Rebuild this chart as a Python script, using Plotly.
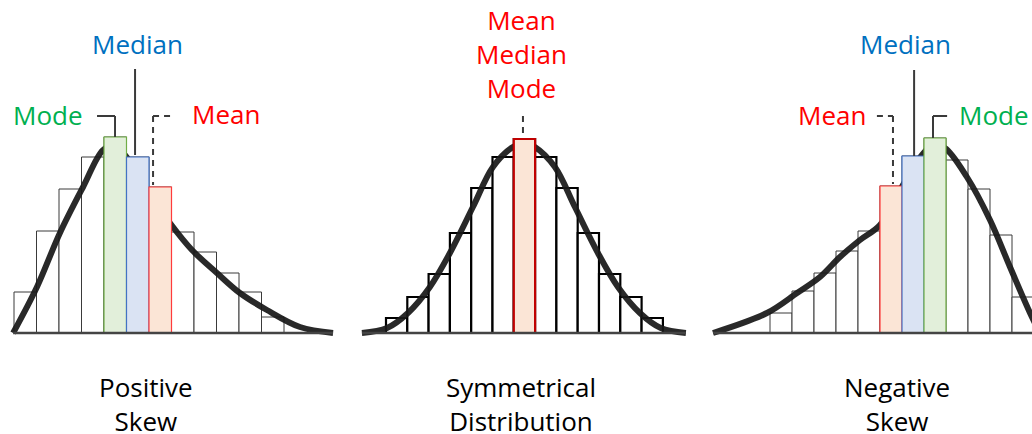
import plotly.graph_objects as go

# ---------------- data ----------------
# Positive skew panel: bar heights (frequency units) per bin
pos_heights = [41, 102, 144, 176, 196, 176, 146, 101, 81, 60, 41, 16]
pos_mode_bin, pos_median_bin, pos_mean_bin = 4, 5, 6
pos_curve_x = [-0.04, 1.02, 2.04, 3.07, 3.96, 4.44, 4.93, 5.91, 6.93, 7.91, 9.02, 10.04, 11.24, 12.71, 14.18]
pos_curve_y = [0, 46, 100, 146, 183, 187, 178, 143, 110, 83, 60, 40, 23, 6, 0]

# Symmetrical panel
sym_heights = [15, 36, 59, 100, 145, 176, 194, 176, 145, 100, 59, 36, 15]
sym_center_bin = 6
sym_curve_x = [-1.13, 0.05, 1.03, 2.06, 3.00, 4.08, 5.02, 5.96, 6.48, 6.99, 7.93, 8.87, 9.95, 10.89, 11.92, 12.90, 14.08]
sym_curve_y = [0, 5, 20, 46, 80, 126, 166, 186, 190, 186, 166, 126, 80, 46, 20, 5, 0]

# Negative skew panel
neg_heights = [20, 42, 60, 82, 102, 147, 177, 195, 173, 144, 98, 36]
neg_mean_bin, neg_median_bin, neg_mode_bin = 5, 6, 7
neg_curve_x = [-2.59, -0.14, 1.23, 2.27, 3.18, 4.09, 5.0, 5.91, 6.91, 7.41, 7.95, 8.95, 10.0, 10.91, 11.82, 12.27]
neg_curve_y = [0, 20, 40, 56, 76, 93, 108, 143, 178, 188, 185, 156, 113, 66, 20, 0]

# labels
pos_caption = ["Positive", "Skew"]
sym_caption = ["Symmetrical", "Distribution"]
neg_caption = ["Negative", "Skew"]
sym_marker_label = ["Mean", "Median", "Mode"]

# ---------------- styling / layout constants ----------------
W, H = 1032, 434
BASE_PX = 333            # pixel row of the baseline
FONT = "Open Sans"
FS = 26
GREEN, BLUE, RED = "#00B050", "#0070C0", "#FF0000"
G_FILL, G_LINE = "#E2EFDA", "#70AD47"
B_FILL, B_LINE = "#DAE3F3", "#4472C4"
R_FILL = "#FBE5D6"
CURVE = "rgba(25,25,25,0.93)"
LINK = "#3a3a3a"

# panel placement: (pixel of bin-0 left edge, pixel width of one bin)
panels = {
    "pos": (14, 22.5),
    "sym": (386, 21.3),
    "neg": (770, 22.0),
}

def xrange(key):
    o, w = panels[key]
    return [(0 - o) / w, (W - o) / w]

fig = go.Figure()

def add_panel(heights, curve_x, curve_y, base_ax, top_ax, highlight, line_w, line_col):
    idx = list(range(len(heights)))
    centers = [i + 0.5 for i in idx]
    # plain bars (under the curve)
    fig.add_trace(go.Bar(
        x=centers, y=heights, width=1,
        marker=dict(color="white", line=dict(color=line_col, width=line_w)),
        xaxis=base_ax, yaxis="y", hoverinfo="skip", showlegend=False))
    # curve
    fig.add_trace(go.Scatter(
        x=curve_x, y=curve_y, mode="lines", line=dict(color=CURVE, width=6, shape="spline", smoothing=1.0),
        xaxis=base_ax, yaxis="y", hoverinfo="skip", showlegend=False))
    # highlighted bars (above the curve)
    hb = [b for b, _, _, _ in highlight]
    fig.add_trace(go.Bar(
        x=[centers[b] for b in hb], y=[heights[b] for b in hb], width=1,
        marker=dict(color=[f for _, f, _, _ in highlight],
                    line=dict(color=[l for _, _, l, _ in highlight],
                              width=[w for _, _, _, w in highlight])),
        xaxis=top_ax, yaxis="y", hoverinfo="skip", showlegend=False))

add_panel(pos_heights, pos_curve_x, pos_curve_y, "x", "x4",
          [(pos_mode_bin, G_FILL, G_LINE, 1.2), (pos_median_bin, B_FILL, B_LINE, 1.2), (pos_mean_bin, R_FILL, "#FF3B3B", 1.2)],
          1, "#3a3a3a")
add_panel(sym_heights, sym_curve_x, sym_curve_y, "x2", "x5",
          [(sym_center_bin, R_FILL, "#C00000", 2.2)],
          2.2, "black")
add_panel(neg_heights, neg_curve_x, neg_curve_y, "x3", "x6",
          [(neg_mean_bin, R_FILL, "#FF3B3B", 1.2), (neg_median_bin, B_FILL, B_LINE, 1.2), (neg_mode_bin, G_FILL, G_LINE, 1.2)],
          1, "#3a3a3a")

hidden = dict(visible=False, showgrid=False, zeroline=False, fixedrange=True)
fig.update_layout(
    width=W, height=H, margin=dict(l=0, r=0, t=0, b=0),
    paper_bgcolor="white", plot_bgcolor="rgba(0,0,0,0)",
    barmode="overlay", showlegend=False,
    yaxis=dict(range=[BASE_PX - H, BASE_PX], domain=[0, 1], **hidden),
    xaxis=dict(range=xrange("pos"), domain=[0, 1], **hidden),
    xaxis2=dict(range=xrange("sym"), overlaying="x", **hidden),
    xaxis3=dict(range=xrange("neg"), overlaying="x", **hidden),
    xaxis4=dict(range=xrange("pos"), overlaying="x", **hidden),
    xaxis5=dict(range=xrange("sym"), overlaying="x", **hidden),
    xaxis6=dict(range=xrange("neg"), overlaying="x", **hidden),
)

def line(xref, x0, y0, x1, y1, dash="solid", width=2, color=LINK):
    fig.add_shape(type="line", xref=xref, yref="y", x0=x0, y0=y0, x1=x1, y1=y1,
                  line=dict(color=color, width=width, dash=dash), layer="above")

# baselines
line("x", pos_curve_x[0], 0, pos_curve_x[-1], 0, width=2.5, color="#444")
line("x2", sym_curve_x[0], 0, sym_curve_x[-1], 0, width=2.5, color="#444")
line("x3", neg_curve_x[0], 0, neg_curve_x[-1], 0, width=2.5, color="#444")

LINK_Y = 217
# positive skew connectors
line("x4", 5.38, 264, 5.38, pos_heights[pos_median_bin] + 2)
line("x4", 3.69, LINK_Y, 4.49, LINK_Y)
line("x4", 4.49, LINK_Y, 4.49, pos_heights[pos_mode_bin])
line("x4", 6.18, LINK_Y, 7.07, LINK_Y, dash="6px,5px")
line("x4", 6.18, LINK_Y, 6.18, pos_heights[pos_mean_bin] + 2, dash="6px,5px")
# symmetrical connector
line("x5", 6.43, LINK_Y, 6.43, sym_heights[sym_center_bin] + 2, dash="6px,5px")
# negative skew connectors
line("x6", 6.55, 263, 6.55, neg_heights[neg_median_bin])
line("x6", 4.86, LINK_Y, 5.59, LINK_Y, dash="6px,5px")
line("x6", 5.59, LINK_Y, 5.59, neg_heights[neg_mean_bin] + 2, dash="6px,5px")
line("x6", 7.41, LINK_Y, 8.05, LINK_Y)
line("x6", 7.41, LINK_Y, 7.41, neg_heights[neg_mode_bin])

def label(xref, x, y, text, color, size=FS):
    if isinstance(text, list):
        text = "<br>".join(text)
    fig.add_annotation(xref=xref, yref="y", x=x, y=y, text=text, showarrow=False,
                       xanchor="center", yanchor="middle",
                       font=dict(family=FONT, size=size, color=color))

CAP_Y = -71
label("x", 1.51, 218, "Mode", GREEN)
label("x", 5.47, 289, "Median", BLUE)
label("x", 9.42, 219, "Mean", RED)
label("x", 5.87, CAP_Y, pos_caption, "black")

label("x2", 6.34, 279, sym_marker_label, RED)
label("x2", 6.34, CAP_Y, sym_caption, "black")

label("x3", 6.18, 289, "Median", BLUE)
label("x3", 2.82, 218, "Mean", RED)
label("x3", 10.18, 218, "Mode", GREEN)
label("x3", 5.77, CAP_Y, neg_caption, "black")

fig.write_html("out.html", config={"displayModeBar": False},
               post_script="document.body.style.margin='0';document.body.style.overflow='hidden';")
